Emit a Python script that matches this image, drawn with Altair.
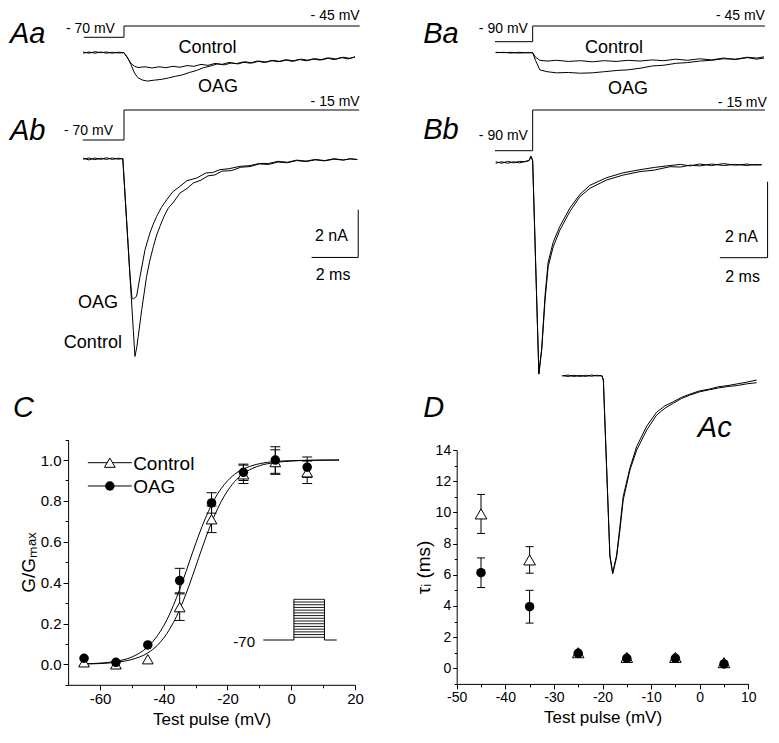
import altair as alt
import pandas as pd

FONT = "Arial"
W, H = 763, 727

# ---------------- current traces: (time ms, current nA) ----------------
aa_control = [(-1.75, 0.03), (-1.5, -0.02), (-1.25, 0.04), (-1.0, 0.0), (-0.75, 0.03), (-0.5, -0.02),
              (-0.25, 0.02), (0.0, 0.0), (0.15, -0.22), (0.3, -0.45), (0.45, -0.57), (0.6, -0.62),
              (0.9, -0.59), (1.2, -0.64), (1.5, -0.59), (1.8, -0.63), (2.1, -0.57), (2.4, -0.61),
              (2.7, -0.54), (3.0, -0.57), (3.3, -0.49), (3.6, -0.53), (3.9, -0.45), (4.2, -0.49),
              (4.5, -0.41), (4.8, -0.46), (5.1, -0.39), (5.4, -0.44), (5.7, -0.35), (6.0, -0.41),
              (6.3, -0.33), (6.6, -0.38), (6.9, -0.3), (7.2, -0.36), (7.5, -0.28), (7.8, -0.34),
              (8.1, -0.26), (8.4, -0.31), (8.7, -0.22), (9.0, -0.29), (9.3, -0.2), (9.6, -0.26),
              (9.9, -0.17)]
aa_oag = [(-1.75, -0.02), (-1.5, 0.03), (-1.25, -0.02), (-1.0, 0.03), (-0.75, -0.02), (-0.5, 0.02),
          (-0.25, -0.01), (0.0, 0.0), (0.15, -0.2), (0.3, -0.5), (0.45, -0.85), (0.6, -1.05),
          (0.8, -1.15), (1.0, -1.19), (1.3, -1.15), (1.6, -1.12), (1.9, -1.06), (2.2, -0.99),
          (2.5, -0.93), (2.8, -0.83), (3.1, -0.75), (3.4, -0.63), (3.7, -0.56), (4.0, -0.47),
          (4.3, -0.51), (4.6, -0.43), (4.9, -0.47), (5.2, -0.38), (5.5, -0.43), (5.8, -0.35),
          (6.1, -0.4), (6.4, -0.32), (6.7, -0.37), (7.0, -0.3), (7.3, -0.35), (7.6, -0.27),
          (7.9, -0.32), (8.2, -0.25), (8.5, -0.3), (8.8, -0.22), (9.1, -0.27), (9.4, -0.19),
          (9.7, -0.24), (9.9, -0.18)]
ab_control = [(-1.75, 0.02), (-1.5, -0.05), (-1.25, 0.03), (-1.0, -0.03), (-0.75, 0.04), (-0.5, -0.03),
              (-0.25, 0.02), (-0.05, 0.0), (0.1, -2.4), (0.25, -4.8), (0.4, -7.2), (0.47, -8.29),
              (0.55, -7.9), (0.61, -7.45), (0.76, -6.33), (0.97, -4.93), (1.1, -4.3), (1.26, -3.68),
              (1.4, -3.2), (1.54, -2.84), (1.7, -2.45), (1.9, -2.07), (2.1, -1.85), (2.4, -1.44),
              (2.7, -1.25), (2.97, -1.02), (3.3, -0.9), (3.6, -0.72), (3.9, -0.68), (4.2, -0.52),
              (4.6, -0.5), (5.0, -0.36), (5.4, -0.33), (5.8, -0.22), (6.2, -0.24), (6.6, -0.14),
              (7.0, -0.17), (7.4, -0.08), (7.8, -0.12), (8.2, -0.05), (8.6, -0.09), (9.0, -0.02),
              (9.4, -0.06), (9.7, 0.0), (10.0, -0.03)]
ab_oag = [(-1.75, -0.02), (-1.5, 0.03), (-1.25, -0.04), (-1.0, 0.02), (-0.75, -0.03), (-0.5, 0.03),
          (-0.25, -0.02), (-0.05, 0.0), (0.1, -2.4), (0.25, -4.8), (0.34, -5.83), (0.4, -5.88),
          (0.54, -5.77), (0.69, -4.93), (0.9, -3.82), (1.11, -3.12), (1.25, -2.75), (1.4, -2.42),
          (1.6, -2.05), (1.83, -1.72), (2.1, -1.38), (2.4, -1.16), (2.7, -0.92), (3.12, -0.81),
          (3.5, -0.6), (3.8, -0.58), (4.11, -0.46), (4.5, -0.42), (4.97, -0.32), (5.4, -0.29),
          (5.8, -0.2), (6.2, -0.2), (6.6, -0.11), (7.0, -0.15), (7.4, -0.06), (7.8, -0.1),
          (8.2, -0.03), (8.6, -0.08), (9.0, 0.0), (9.4, -0.05), (9.7, -0.01), (10.0, -0.04)]
ba_control = [(-1.55, 0.0), (-1.2, 0.01), (-0.9, -0.01), (-0.6, 0.01), (-0.3, 0.0), (0.0, 0.0),
              (0.12, -0.12), (0.3, -0.2), (0.6, -0.22), (1.0, -0.2), (1.5, -0.23), (2.0, -0.21),
              (2.5, -0.24), (3.0, -0.21), (3.5, -0.23), (4.0, -0.2), (4.5, -0.22), (5.0, -0.19),
              (5.5, -0.21), (6.0, -0.17), (6.5, -0.2), (7.0, -0.16), (7.5, -0.19), (8.0, -0.14),
              (8.5, -0.18), (9.0, -0.13), (9.4, -0.17), (9.7, -0.14)]
ba_oag = [(-1.55, 0.01), (-1.2, 0.0), (-0.9, 0.01), (-0.6, -0.01), (-0.3, 0.0), (0.0, 0.0),
          (0.12, -0.2), (0.3, -0.45), (0.6, -0.5), (1.0, -0.53), (1.5, -0.52), (2.0, -0.54),
          (2.5, -0.53), (3.0, -0.5), (3.5, -0.47), (4.0, -0.45), (4.5, -0.41), (5.0, -0.35),
          (5.5, -0.33), (6.0, -0.28), (6.5, -0.26), (7.0, -0.22), (7.5, -0.2), (8.0, -0.16),
          (8.5, -0.17), (9.0, -0.12), (9.4, -0.14), (9.7, -0.11)]
bb_control = [(-1.55, 0.02), (-1.3, -0.02), (-1.05, 0.03), (-0.8, -0.01), (-0.55, 0.03), (-0.3, 0.02),
              (-0.15, 0.06), (-0.07, 0.17), (0.0, 0.05), (0.26, -5.57), (0.38, -4.93), (0.52, -3.62),
              (0.65, -2.74), (0.86, -2.22), (1.14, -1.78), (1.56, -1.29), (1.98, -0.9), (2.4, -0.68),
              (3.1, -0.46), (3.8, -0.33), (4.5, -0.24), (5.1, -0.2), (5.76, -0.11), (6.2, -0.12),
              (6.6, -0.07), (7.0, -0.09), (7.5, -0.04), (8.0, -0.08), (8.5, -0.05), (9.0, -0.08),
              (9.3, -0.05), (9.6, -0.07)]
bb_oag = [(-1.55, -0.02), (-1.3, 0.02), (-1.05, -0.02), (-0.8, 0.02), (-0.55, -0.01), (-0.3, 0.03),
          (-0.15, 0.05), (-0.07, 0.15), (0.0, 0.05), (0.26, -5.55), (0.38, -4.88), (0.52, -3.5),
          (0.65, -2.62), (0.86, -2.1), (1.14, -1.68), (1.56, -1.2), (1.98, -0.84), (2.4, -0.6),
          (3.1, -0.4), (3.8, -0.27), (4.5, -0.19), (5.1, -0.13), (5.76, -0.08), (6.2, -0.05),
          (6.6, -0.09), (7.0, -0.04), (7.5, -0.08), (8.0, -0.03), (8.5, -0.07), (9.0, -0.04),
          (9.3, -0.07), (9.6, -0.05)]
ac_control = [(-1.7, 0.0), (-1.45, 0.04), (-1.2, -0.02), (-0.95, 0.03), (-0.7, -0.02), (-0.45, 0.04),
              (-0.2, 0.0), (0.0, 0.02), (0.06, -0.17), (0.34, -7.58), (0.46, -8.3), (0.63, -7.58),
              (0.77, -6.46), (0.91, -5.2), (1.2, -3.94), (1.49, -3.1), (1.92, -2.26), (2.34, -1.64),
              (2.7, -1.35), (3.06, -1.14), (3.4, -0.95), (3.77, -0.8), (4.2, -0.66), (4.6, -0.58),
              (5.0, -0.5), (5.4, -0.44), (5.8, -0.4), (6.2, -0.33), (6.63, -0.28)]
ac_oag = [(-1.7, 0.02), (-1.45, -0.02), (-1.2, 0.03), (-0.95, -0.02), (-0.7, 0.03), (-0.45, -0.01),
          (-0.2, 0.03), (0.0, 0.0), (0.06, -0.17), (0.34, -7.5), (0.46, -8.25), (0.63, -7.5),
          (0.77, -6.3), (0.91, -5.05), (1.2, -3.85), (1.49, -2.95), (1.92, -2.1), (2.34, -1.52),
          (2.7, -1.25), (3.06, -1.08), (3.4, -0.9), (3.77, -0.76), (4.2, -0.62), (4.6, -0.55),
          (5.0, -0.45), (5.4, -0.4), (5.8, -0.33), (6.2, -0.26), (6.63, -0.17)]

# ---------------- voltage protocols (ms, mV) ----------------
aa_step = [(-1.72, -70), (0.0, -70), (0.0, -45), (10.1, -45)]
ab_step = [(-1.77, -70), (0.0, -70), (0.0, -15), (10.08, -15)]
ba_step = [(-1.58, -90), (0.0, -90), (0.0, -45), (9.74, -45)]
bb_step = [(-1.58, -90), (0.0, -90), (0.0, -15), (9.74, -15)]

# ---------------- C: G/Gmax vs test pulse ----------------
c_test = [-65, -55, -45, -35, -25, -15, -5, 5]
c_ctrl = [0.01, 0.0, 0.025, 0.28, 0.71, 0.93, 0.99, 0.94]
c_ctrl_err = [0, 0, 0, 0.065, 0.065, 0.045, 0.06, 0.055]
c_oag = [0.03, 0.01, 0.095, 0.41, 0.79, 0.94, 1.0, 0.965]
c_oag_err = [0, 0, 0, 0.06, 0.05, 0.04, 0.065, 0.05]
c_fit_v = [-65, -60, -55, -50, -45, -42, -40, -38, -36, -34, -32, -30, -28, -26, -24, -22, -20,
           -17, -14, -10, -5, 0, 5, 10, 15]
c_fit_ctrl = [0.002, 0.004, 0.01, 0.024, 0.056, 0.093, 0.129, 0.176, 0.234, 0.306, 0.388, 0.477,
              0.568, 0.654, 0.731, 0.796, 0.849, 0.907, 0.944, 0.972, 0.988, 0.995, 0.998, 0.999, 1.0]
c_fit_oag = [0.003, 0.006, 0.015, 0.036, 0.086, 0.14, 0.189, 0.251, 0.326, 0.41, 0.5, 0.59,
             0.674, 0.748, 0.811, 0.86, 0.898, 0.939, 0.963, 0.982, 0.993, 0.997, 0.999, 1.0, 1.0]
inset_levels = [-65, -60, -55, -50, -45, -40, -35, -30, -25, -20, -15, -10, -5, 0, 5]
inset_hold = -70

# ---------------- D: tau_i vs test pulse ----------------
d_test = [-45, -35, -25, -15, -5, 5]
d_ctrl = [9.9, 6.95, 1.0, 0.7, 0.7, 0.36]
d_ctrl_err = [1.25, 0.85, 0, 0, 0, 0]
d_oag = [6.13, 3.95, 0.96, 0.64, 0.64, 0.28]
d_oag_err = [0.95, 1.05, 0, 0, 0, 0]


# ---------------- helpers ----------------
def sc(domain, rng):
    return alt.Scale(domain=domain, range=rng, nice=False, zero=False)


def traces(series, xs, ys, width=1.0):
    rows = []
    for s, pairs in enumerate(series):
        for k, (t, i) in enumerate(pairs):
            rows.append({"s": s, "k": k, "t": t, "i": i})
    return alt.Chart(pd.DataFrame(rows)).mark_line(color="black", strokeWidth=width).encode(
        x=alt.X("t:Q", scale=xs, axis=None),
        y=alt.Y("i:Q", scale=ys, axis=None),
        detail="s:N", order="k:Q")


def texts(labels, xv, yv, xs, ys, align="center", size=18, style="normal"):
    df = pd.DataFrame({"label": labels, "x": xv, "y": yv})
    return alt.Chart(df).mark_text(align=align, baseline="alphabetic", font=FONT, fontSize=size,
                                   fontStyle=style, color="black").encode(
        x=alt.X("x:Q", scale=xs, axis=None),
        y=alt.Y("y:Q", scale=ys, axis=None),
        text="label:N")


def segs(x, x2, y, y2, xs, ys, color="black", width=1.0):
    df = pd.DataFrame({"x": x, "x2": x2, "y": y, "y2": y2})
    return alt.Chart(df).mark_rule(color=color, strokeWidth=width).encode(
        x=alt.X("x:Q", scale=xs, axis=None), x2="x2:Q",
        y=alt.Y("y:Q", scale=ys, axis=None), y2="y2:Q")


def axis(orient, offset, values, minor_test, label_expr, title, lsize, tpad, tsize=17,
         minor=3, major=5):
    return alt.Axis(orient=orient, offset=offset, values=values, labelExpr=label_expr,
                    tickSize={"condition": {"test": minor_test, "value": minor}, "value": major},
                    grid=False, domainColor="black", domainWidth=1, tickColor="black", tickWidth=1,
                    labelColor="black", labelFont=FONT, labelFontSize=lsize, labelPadding=2,
                    labelFlush=False, labelOverlap=False,
                    title=title, titleFont=FONT, titleFontSize=tsize, titleFontWeight="normal",
                    titleColor="black", titlePadding=tpad)


layers = []

# ---------------- panel A ----------------
xA = sc([-1.8, 10], [74, 349.3])
yAa = sc([-2, 0], [92.4, 44.7])
yAb = sc([-8, 0], [341.5, 150.7])
vAa = sc([-70, -45], [29.3, 18])
vAb = sc([-70, -15], [132, 102])

layers += [
    traces([aa_step], xA, vAa),
    traces([aa_control, aa_oag], xA, yAa),
    traces([ab_step], xA, vAb),
    traces([ab_control, ab_oag], xA, yAb),
    texts(["- 70 mV", "- 45 mV"], [-0.39, 10.1], [-59.4, -31.7], xA, vAa, align="right", size=14),
    texts(["- 70 mV", "- 15 mV"], [-0.47, 10.1], [-60.8, -7.7], xA, vAb, align="right", size=14),
    texts(["Aa"], [-4.89], [-83.3], xA, vAa, align="left", size=29, style="italic"),
    texts(["Ab"], [-4.89], [-70], xA, vAb, align="left", size=29, style="italic"),
    texts(["Control", "OAG"], [3.58, 4.03], [0.0, -1.64], xA, yAa),
    texts(["OAG", "Control"], [-0.26, -0.09], [-6.26, -7.94], xA, yAb, align="right"),
    segs([10.04, 8.04], [10.04, 10.04], [-2.14, -4.14], [-4.14, -4.14], xA, yAb),
    texts(["2 nA", "2 ms"], [8.89, 8.96], [-3.47, -5.07], xA, yAb, size=16),
]

# ---------------- panel B ----------------
xB = sc([-1.6, 9.75], [486.5, 757.2])
yBa = sc([-1, 0], [82.7, 44.7])
yBb = sc([-5, 0], [344.5, 154.5])
vBa = sc([-90, -45], [33.7, 18])
vBb = sc([-90, -15], [142.7, 102])

layers += [
    traces([ba_step], xB, vBa),
    traces([ba_control, ba_oag], xB, yBa),
    traces([bb_step], xB, vBb),
    traces([bb_control, bb_oag], xB, yBb),
    texts(["- 90 mV", "- 45 mV"], [-0.2, 9.74], [-65.9, -27.8], xB, vBa, align="right", size=14),
    texts(["- 90 mV", "- 15 mV"], [-0.2, 9.82], [-70.3, -8.9], xB, vBb, align="right", size=14),
    texts(["Ba"], [-4.59], [-92.9], xB, vBa, align="left", size=29, style="italic"),
    texts(["Bb"], [-4.59], [-69], xB, vBb, align="left", size=29, style="italic"),
    texts(["Control", "OAG"], [3.41, 4.0], [-0.016, -1.09], xB, yBa),
    segs([9.85, 7.85], [9.85, 9.85], [-0.505, -2.505], [-2.505, -2.505], xB, yBb),
    texts(["2 nA", "2 ms"], [8.75, 8.8], [-2.08, -3.14], xB, yBb, size=16),
]

# ---------------- panel C ----------------
xC = sc([-70, 20], [60.1, 347])
yC = sc([-0.1, 1.1], [676.8, 431.6])

fit_rows = ([{"s": "Control", "v": v, "g": g} for v, g in zip(c_fit_v, c_fit_ctrl)] +
            [{"s": "OAG", "v": v, "g": g} for v, g in zip(c_fit_v, c_fit_oag)])
c_fit = alt.Chart(pd.DataFrame(fit_rows)).mark_line(color="black", strokeWidth=1,
                                                   interpolate="monotone").encode(
    x=alt.X("v:Q", scale=xC,
            axis=axis("bottom", 676.8 - H, [-60, -50, -40, -30, -20, -10, 0, 10, 20],
                      "datum.value % 20 !== 0", "datum.value % 20 === 0 ? '' + datum.value : ''",
                      "Test pulse (mV)", 15, 5)),
    y=alt.Y("g:Q", scale=yC,
            axis=axis("left", -60.1,
                      [-0.1, 0.0, 0.1, 0.2, 0.3, 0.4, 0.5, 0.6, 0.7, 0.8, 0.9, 1.0, 1.1],
                      "round(datum.value * 10) % 2 !== 0",
                      "round(datum.value * 10) % 2 === 0 ? format(datum.value, '.1f') : ''",
                      "G/G\u2098\u2090\u2093", 15, 2, tsize=19)),
    detail="s:N")


def point_df(xv, yv, ev):
    df = pd.DataFrame({"x": xv, "y": yv, "e": ev})
    df["lo"] = df["y"] - df["e"]
    df["hi"] = df["y"] + df["e"]
    return df


def err_layers(df, xs, ys, cap):
    eb = df[df["e"] > 0]
    stems = alt.Chart(eb).mark_rule(color="black", strokeWidth=1).encode(
        x=alt.X("x:Q", scale=xs, axis=None),
        y=alt.Y("lo:Q", scale=ys, axis=None), y2="hi:Q")
    caps_df = pd.concat([eb[["x"]].assign(c=eb["lo"]), eb[["x"]].assign(c=eb["hi"])])
    caps = alt.Chart(caps_df).mark_tick(orient="horizontal", size=cap, thickness=1,
                                        color="black", opacity=1).encode(
        x=alt.X("x:Q", scale=xs, axis=None),
        y=alt.Y("c:Q", scale=ys, axis=None))
    return [stems, caps]


def tri(df, xs, ys, size):
    return alt.Chart(df).mark_point(shape="triangle-up", size=size, filled=True, fill="white",
                                    stroke="black", strokeWidth=1, opacity=1).encode(
        x=alt.X("x:Q", scale=xs, axis=None), y=alt.Y("y:Q", scale=ys, axis=None))


def dot(df, xs, ys, size):
    return alt.Chart(df).mark_point(shape="circle", size=size, filled=True, color="black",
                                    opacity=1).encode(
        x=alt.X("x:Q", scale=xs, axis=None), y=alt.Y("y:Q", scale=ys, axis=None))


c_ctrl_df = point_df(c_test, c_ctrl, c_ctrl_err)
c_oag_df = point_df(c_test, c_oag, c_oag_err)

legend_df = pd.DataFrame({"label": ["Control", "OAG"], "x0": [-63.8, -63.8], "x1": [-50, -50],
                          "xm": [-56.9, -56.9], "y": [0.987, 0.873]})

layers += [c_fit]
layers += err_layers(c_ctrl_df, xC, yC, 10) + err_layers(c_oag_df, xC, yC, 10)
layers += [
    tri(c_ctrl_df, xC, yC, 115),
    dot(c_oag_df, xC, yC, 90),
    segs(legend_df["x0"], legend_df["x1"], legend_df["y"], legend_df["y"], xC, yC),
    tri(pd.DataFrame({"x": [-56.9], "y": [0.987]}), xC, yC, 115),
    dot(pd.DataFrame({"x": [-56.9], "y": [0.873]}), xC, yC, 90),
    texts(["Control", "OAG"], [-49.6, -49.6], [0.951, 0.837], xC, yC, align="left", size=19),
    texts(["C"], [-87.3], [1.21], xC, yC, align="left", size=29, style="italic"),
]

# inset protocol in C
xI = sc([-10, 14], [255.3, 328.7])
yI = sc([-70, 5], [632, 591.3])
n = len(inset_levels)
layers += [
    segs([0] * n, [10] * n, inset_levels, inset_levels, xI, yI, width=0.9),
    segs([-10, 10, 0, 10], [0, 14, 0, 10], [inset_hold, inset_hold, inset_hold, inset_hold],
         [inset_hold, inset_hold, max(inset_levels), max(inset_levels)], xI, yI),
    texts(["-70"], [-12.7], [-82.8], xI, yI, align="right", size=15),
]

# ---------------- panel D ----------------
xD = sc([-50, 10], [448.7, 740.3])
yD = sc([-1, 14], [675.9, 442.0])
d_ctrl_df = point_df(d_test, d_ctrl, d_ctrl_err)
d_oag_df = point_df(d_test, d_oag, d_oag_err)

d_axis_layer = alt.Chart(d_ctrl_df).mark_point(shape="triangle-up", size=135, filled=True,
                                               fill="white", stroke="black", strokeWidth=1,
                                               opacity=1).encode(
    x=alt.X("x:Q", scale=xD,
            axis=axis("bottom", 675.9 - H, list(range(-50, 11, 5)),
                      "datum.value % 10 !== 0", "datum.value % 10 === 0 ? '' + datum.value : ''",
                      "Test pulse (mV)", 14, 5)),
    y=alt.Y("y:Q", scale=yD,
            axis=axis("left", -448.7, list(range(-1, 15)),
                      "datum.value % 2 !== 0", "datum.value % 2 === 0 ? '' + datum.value : ''",
                      "\u03c4\u1d62 (ms)", 14, 2, tsize=19, minor=2.5, major=4)))

layers += err_layers(d_ctrl_df, xD, yD, 8) + err_layers(d_oag_df, xD, yD, 8)
layers += [
    d_axis_layer,
    dot(d_oag_df, xD, yD, 90),
    texts(["D"], [-56.9], [16.12], xD, yD, align="left", size=29, style="italic"),
]

# ---------------- Ac inset ----------------
xAc = sc([-1.7, 6.65], [554.3, 749.1])
yAc = sc([-8, 0], [558.8, 368])
layers += [
    traces([ac_control, ac_oag], xAc, yAc),
    texts(["Ac"], [4.11], [-2.56], xAc, yAc, align="left", size=29, style="italic"),
]

chart = alt.layer(*layers).resolve_scale(x="independent", y="independent").properties(
    width=W, height=H, padding=0, autosize=alt.AutoSizeParams(type="none"),
    background="white").configure_view(stroke=None)

chart.save("out.html", embed_options={"renderer": "svg", "actions": False})
